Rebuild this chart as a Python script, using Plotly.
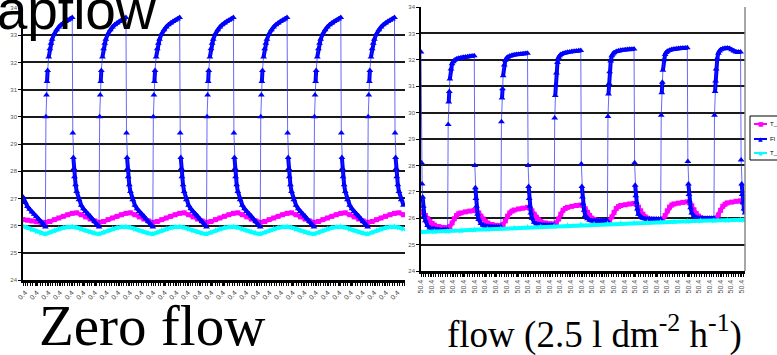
import plotly.graph_objects as go

# ---------------- LEFT CHART (zero flow) ----------------
L_PERIOD = 24
L_FIRST_RISE = 10
L_XMAX = 170.7

FL_OFFSETS = [0, 0.25, 0.5, 0.75, 1, 1.5, 2, 2.5, 3, 4, 5, 6, 7, 8, 9, 10, 11, 12,
              12.25, 12.5, 12.75, 13, 13.5, 14, 15, 16, 17, 18, 19, 20, 21, 22, 23]

FL_L_START_T = [0, 1, 2, 3, 4, 5, 6, 7, 8, 9]
FL_L_START_V = [27.05, 26.85, 26.7, 26.6, 26.5, 26.42, 26.33, 26.24, 26.15, 26.06]
FL_L_CYCLE = [25.95, 30.0, 30.8, 31.3, 31.7, 32.2, 32.5, 32.7, 32.85, 33.05, 33.2, 33.3,
              33.38, 33.45, 33.5, 33.55, 33.6, 33.65,
              29.4, 28.5, 28.1, 27.8, 27.5, 27.25, 26.95, 26.75, 26.62, 26.52, 26.44,
              26.35, 26.25, 26.15, 26.05]
FL_L_CYCLES = [FL_L_CYCLE] * 7

SLOW_OFFSETS_L = [0, 2, 4, 6, 8, 10, 12, 14, 16, 18, 20, 22]
MAG_L_START_T = [0, 2, 4, 6, 8]
MAG_L_START_V = [26.22, 26.2, 26.17, 26.14, 26.12]
MAG_L_CYCLE = [26.12, 26.15, 26.22, 26.28, 26.34, 26.4, 26.45, 26.47, 26.4, 26.32, 26.24, 26.17]
MAG_L_CYCLES = [MAG_L_CYCLE] * 7

CYA_L_START_T = [0, 2, 4, 6, 8]
CYA_L_START_V = [25.98, 25.92, 25.85, 25.78, 25.72]
CYA_L_CYCLE = [25.69, 25.75, 25.82, 25.88, 25.92, 25.95, 25.96, 25.93, 25.87, 25.81, 25.76, 25.72]
CYA_L_CYCLES = [CYA_L_CYCLE] * 7

# ---------------- RIGHT CHART (flow 2.5) ----------------
R_PERIOD = 24
R_FIRST_RISE = 12
R_XMAX = 146

FL_R_START_T = [0, 0.25, 0.5, 0.75, 1, 1.5, 2, 3, 4, 6, 8, 10, 11]
FL_R_START_V = [32.3, 28.1, 27.3, 26.8, 26.45, 26.1, 25.9, 25.72, 25.63, 25.59, 25.57, 25.56, 25.56]
FL_R_CYCLES = [
    [25.56, 29.55, 30.4, 30.8, 31.27, 31.65, 31.85, 31.93, 31.98, 32.03, 32.06, 32.08, 32.1, 32.11, 32.12, 32.13, 32.14, 32.15,
     28.0, 27.15, 26.75, 26.45, 26.15, 25.95, 25.8, 25.73, 25.7, 25.69, 25.68, 25.68, 25.67, 25.67, 25.67],
    [25.67, 29.65, 30.55, 30.9, 31.4, 31.8, 31.98, 32.05, 32.1, 32.14, 32.17, 32.19, 32.2, 32.21, 32.22, 32.23, 32.24, 32.25,
     28.0, 27.2, 26.75, 26.45, 26.2, 26.0, 25.85, 25.79, 25.76, 25.75, 25.74, 25.74, 25.73, 25.73, 25.73],
    [25.73, 29.8, 30.65, 31.05, 31.5, 31.9, 32.08, 32.15, 32.2, 32.24, 32.27, 32.29, 32.3, 32.31, 32.32, 32.33, 32.34, 32.35,
     28.05, 27.2, 26.8, 26.55, 26.3, 26.1, 25.98, 25.92, 25.9, 25.9, 25.9, 25.9, 25.9, 25.9, 25.9],
    [25.9, 29.85, 30.7, 31.1, 31.55, 31.95, 32.15, 32.22, 32.27, 32.31, 32.34, 32.36, 32.37, 32.38, 32.39, 32.4, 32.4, 32.41,
     28.1, 27.25, 26.85, 26.6, 26.35, 26.15, 26.05, 26.0, 25.98, 25.97, 25.97, 25.97, 25.97, 25.97, 25.97],
    [25.97, 29.9, 30.75, 31.15, 31.6, 32.0, 32.2, 32.28, 32.32, 32.36, 32.39, 32.41, 32.42, 32.43, 32.44, 32.45, 32.45, 32.46,
     28.15, 27.3, 26.9, 26.65, 26.4, 26.2, 26.08, 26.03, 26.01, 26.0, 26.0, 26.0, 26.0, 26.0, 26.0],
    [26.0, 29.9, 30.8, 31.2, 31.65, 32.05, 32.25, 32.33, 32.38, 32.42, 32.44, 32.45, 32.43, 32.38, 32.33, 32.3, 32.3, 32.3,
     28.2, 27.3, 26.9, 26.6, 26.35, 26.2, 26.1, 26.05, 26.02, 26.01, 26.0, 26.0, 26.0, 26.0, 26.0],
]

MAG_R_OFFSETS = [0, 1, 2, 3, 4, 5, 6, 8, 10, 12, 13, 14, 15, 16, 17, 18, 20, 22]
MAG_R_START_T = [0, 1, 2, 3, 4, 5, 6, 8, 10]
MAG_R_START_V = [26.25, 26.2, 26.1, 25.98, 25.88, 25.8, 25.74, 25.68, 25.65]
MAG_R_CYCLES = [
    [25.64, 25.68, 25.82, 25.98, 26.1, 26.17, 26.2, 26.24, 26.27, 26.3, 26.28, 26.2, 26.08, 25.97, 25.88, 25.82, 25.76, 25.73],
    [25.72, 25.76, 25.9, 26.08, 26.2, 26.27, 26.31, 26.35, 26.38, 26.41, 26.38, 26.28, 26.15, 26.03, 25.93, 25.87, 25.82, 25.79],
    [25.78, 25.82, 25.97, 26.15, 26.3, 26.37, 26.41, 26.45, 26.48, 26.5, 26.47, 26.36, 26.22, 26.1, 26.0, 25.95, 25.91, 25.89],
    [25.88, 25.92, 26.05, 26.22, 26.37, 26.44, 26.48, 26.51, 26.54, 26.56, 26.52, 26.42, 26.28, 26.15, 26.05, 26.0, 25.96, 25.94],
    [25.94, 25.97, 26.1, 26.28, 26.42, 26.5, 26.54, 26.57, 26.6, 26.62, 26.58, 26.47, 26.32, 26.18, 26.08, 26.02, 25.98, 25.97],
    [25.97, 26.0, 26.12, 26.3, 26.45, 26.53, 26.58, 26.61, 26.64, 26.66, 26.6, 26.48, 26.34, 26.2, 26.1, 26.05, 26.0, 26.0],
]

CYA_R_T = [0, 6, 12, 18, 24, 30, 36, 42, 48, 54, 60, 66, 72, 78, 84, 90, 96, 102, 108, 114,
           120, 126, 132, 138, 144, 146]
CYA_R_V = [25.48, 25.49, 25.5, 25.53, 25.56, 25.58, 25.6, 25.63, 25.66, 25.68, 25.7, 25.72, 25.75,
           25.77, 25.79, 25.8, 25.82, 25.84, 25.85, 25.87, 25.88, 25.9, 25.91, 25.92, 25.93, 25.94]

SERIES_NAMES = ["T_air_in", "Fl", "T_air"]
L_TICK_LABEL = "0.4"
R_TICK_LABEL = "50.4"
L_N_LABELS = 33
L_LABEL_STEP = 5.2
R_N_LABELS = 31
R_LABEL_STEP = 4.82
Y_TICKS = [24, 25, 26, 27, 28, 29, 30, 31, 32, 33, 34]

TITLE = "Sapflow"
LEFT_CAPTION = "Zero flow"
RIGHT_CAPTION = "flow (2.5 l dm<sup>-2</sup> h<sup>-1</sup>)"


def build(start_t, start_v, first, period, offsets, cycles, xmax):
    xs, ys = list(start_t), list(start_v)
    for k, vals in enumerate(cycles):
        base = first + k * period
        for o, v in zip(offsets, vals):
            t = base + o
            if t <= xmax:
                xs.append(t)
                ys.append(v)
    return xs, ys


def smooth_parts(xs, ys, thr=0.45):
    """Same points, with gaps where the series jumps (for the dense-marker band)."""
    bx, by = [xs[0]], [ys[0]]
    for i in range(1, len(xs)):
        if abs(ys[i] - ys[i - 1]) > thr:
            bx.append(None)
            by.append(None)
        bx.append(xs[i])
        by.append(ys[i])
    return bx, by


MAGENTA = "#FF00FF"
BLUE = "#0000FF"
CYAN = "#00FFFF"

fig = go.Figure()


def add_traces(xa, ya, mag, fl, cya):
    fig.add_trace(go.Scatter(x=mag[0], y=mag[1], xaxis=xa, yaxis=ya, mode="lines+markers",
                             name=SERIES_NAMES[0], showlegend=False,
                             line=dict(color=MAGENTA, width=4),
                             marker=dict(symbol="square", size=5, color=MAGENTA)))
    bx, by = smooth_parts(fl[0], fl[1])
    fig.add_trace(go.Scatter(x=bx, y=by, xaxis=xa, yaxis=ya, mode="lines",
                             showlegend=False, hoverinfo="skip", connectgaps=False,
                             line=dict(color=BLUE, width=4)))
    fig.add_trace(go.Scatter(x=fl[0], y=fl[1], xaxis=xa, yaxis=ya, mode="lines+markers",
                             name=SERIES_NAMES[1], showlegend=False,
                             line=dict(color="rgba(40,40,255,0.7)", width=1),
                             marker=dict(symbol="triangle-up", size=6, color=BLUE)))
    fig.add_trace(go.Scatter(x=cya[0], y=cya[1], xaxis=xa, yaxis=ya, mode="lines+markers",
                             name=SERIES_NAMES[2], showlegend=False,
                             line=dict(color=CYAN, width=4),
                             marker=dict(symbol="star", size=5, color=CYAN)))


add_traces("x", "y",
           build(MAG_L_START_T, MAG_L_START_V, L_FIRST_RISE, L_PERIOD, SLOW_OFFSETS_L, MAG_L_CYCLES, L_XMAX),
           build(FL_L_START_T, FL_L_START_V, L_FIRST_RISE, L_PERIOD, FL_OFFSETS, FL_L_CYCLES, L_XMAX),
           build(CYA_L_START_T, CYA_L_START_V, L_FIRST_RISE, L_PERIOD, SLOW_OFFSETS_L, CYA_L_CYCLES, L_XMAX))
add_traces("x2", "y2",
           build(MAG_R_START_T, MAG_R_START_V, R_FIRST_RISE, R_PERIOD, MAG_R_OFFSETS, MAG_R_CYCLES, R_XMAX),
           build(FL_R_START_T, FL_R_START_V, R_FIRST_RISE, R_PERIOD, FL_OFFSETS, FL_R_CYCLES, R_XMAX),
           (CYA_R_T, CYA_R_V))

W, H = 777, 355
tick_font = dict(family="Liberation Sans, Arial", size=6, color="#555555")

yaxis_common = dict(range=[24, 34], tickvals=Y_TICKS, showgrid=True, gridcolor="#1a1a1a",
                    gridwidth=1.5, showline=True, linecolor="black", linewidth=1.5,
                    ticks="outside", ticklen=3, tickcolor="black", tickfont=tick_font,
                    zeroline=False, fixedrange=True, automargin=False)

l_tickvals = [1 + i * L_LABEL_STEP for i in range(L_N_LABELS)]
r_tickvals = [i * R_LABEL_STEP for i in range(R_N_LABELS)]

# ---- legend drawn as a framed box to the right of the right chart (clipped by page edge)
px = lambda v: v / W
py = lambda v: 1 - v / H
LEG_COLORS = [MAGENTA, BLUE, CYAN]
LEG_SYMBOLS = ["■", "▲", "✱"]
LEG_ROWS = [124, 139, 153]
shapes = [
    dict(type="line", xref="x2 domain", yref="y2 domain", x0=1, x1=1, y0=0, y1=1,
         line=dict(color="#888888", width=1.5)),
    dict(type="rect", xref="paper", yref="paper", x0=px(750), x1=px(800), y0=py(160), y1=py(116),
         line=dict(color="black", width=1), fillcolor="white", layer="above"),
]
annotations = []
for name, col, sym, row in zip(SERIES_NAMES, LEG_COLORS, LEG_SYMBOLS, LEG_ROWS):
    shapes.append(dict(type="line", xref="paper", yref="paper", x0=px(754), x1=px(767),
                       y0=py(row), y1=py(row), line=dict(color=col, width=2), layer="above"))
    annotations.append(dict(text=sym, xref="paper", yref="paper", x=px(760.5), y=py(row),
                            xanchor="center", yanchor="middle", showarrow=False,
                            font=dict(family="DejaVu Sans", size=6, color=col)))
    annotations.append(dict(text=name, xref="paper", yref="paper", x=px(768), y=py(row),
                            xanchor="left", yanchor="middle", showarrow=False,
                            font=dict(family="Liberation Sans, Arial", size=6, color="black")))

annotations += [
    dict(text=TITLE, xref="paper", yref="paper", x=px(158), y=py(10),
         xanchor="right", yanchor="middle", showarrow=False,
         font=dict(family="Liberation Sans, Arial", size=55, color="black")),
    dict(text=LEFT_CAPTION, xref="paper", yref="paper", x=px(152), y=py(325),
         xanchor="center", yanchor="middle", showarrow=False,
         font=dict(family="Liberation Serif, Times New Roman", size=57, color="black")),
    dict(text=RIGHT_CAPTION, xref="paper", yref="paper", x=px(594.5), y=py(332),
         xanchor="center", yanchor="middle", showarrow=False,
         font=dict(family="Liberation Serif, Times New Roman", size=37, color="black")),
]

fig.update_layout(
    width=W, height=H, margin=dict(l=0, r=0, t=0, b=0),
    paper_bgcolor="white", plot_bgcolor="white", showlegend=False,
    xaxis=dict(domain=[23 / W, 405 / W], range=[0, L_XMAX], tickvals=l_tickvals,
               ticktext=[L_TICK_LABEL] * L_N_LABELS, tickangle=-45,
               tickfont=dict(family="Liberation Sans, Arial", size=7, color="#444"),
               showgrid=False, showline=True, linecolor="black", linewidth=3,
               ticks="outside", ticklen=3, tickcolor="black",
               minor=dict(tickmode="linear", tick0=0, dtick=1.1, ticks="outside",
                          ticklen=3, tickcolor="black"),
               zeroline=False, anchor="y", automargin=False),
    yaxis=dict(domain=[1 - 280 / H, 1 - 8 / H], anchor="x", **yaxis_common),
    xaxis2=dict(domain=[421 / W, 745 / W], range=[0, R_XMAX], tickvals=r_tickvals,
                ticktext=[R_TICK_LABEL] * R_N_LABELS, tickangle=-90,
                tickfont=dict(family="Liberation Sans, Arial", size=7, color="#555"),
                showgrid=False, showline=True, linecolor="black", linewidth=3,
                ticks="outside", ticklen=3, tickcolor="black",
                minor=dict(tickmode="linear", tick0=0, dtick=1.1, ticks="outside",
                           ticklen=3, tickcolor="black"),
                zeroline=False, anchor="y2", automargin=False),
    yaxis2=dict(domain=[1 - 271 / H, 1 - 7 / H], anchor="x2", **yaxis_common),
    shapes=shapes,
    annotations=annotations,
)

fig.write_html("out.html", config={"displayModeBar": False},
               post_script="document.body.style.margin='0';document.body.style.overflow='hidden';")
